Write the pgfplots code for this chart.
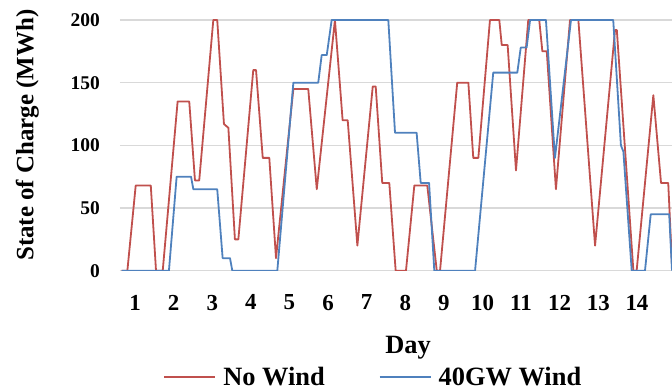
\documentclass[border=0pt]{standalone}
\usepackage{pgfplots}
\pgfplotsset{compat=1.18}
\usepackage{fontspec}
\setmainfont{Liberation Serif}
\definecolor{nowind}{HTML}{C0504D}
\definecolor{wind}{HTML}{4F81BD}
\definecolor{gridc}{HTML}{D9D9D9}
\begin{document}
\begin{tikzpicture}
\begin{axis}[
  scale only axis,
  width=552bp, height=250.7bp,
  xmin=0, xmax=337.2, ymin=0, ymax=200,
  axis line style={draw=none},
  major tick length=0pt,
  tick style={draw=none},
  ytick={0,50,100,150,200},
  yticklabels={0,50,100,150,200},
  xtick={9.2,32.8,56.4,80.0,103.5,127.1,150.7,174.3,197.9,221.5,245.0,268.6,292.2,315.8},
  xticklabels={1,2,3,4,5,6,7,8,9,10,11,12,13,14},
  ymajorgrids,
  grid style={gridc, line width=1.3bp},
  yticklabel style={font=\fontsize{19.5}{20}\selectfont\bfseries, anchor=east, inner sep=0pt, xshift=-20bp},
  xticklabel style={font=\fontsize{23}{24}\selectfont\bfseries, anchor=north, inner sep=0pt, yshift=-24bp},
  xlabel={Day},
  xlabel style={font=\fontsize{26.5}{27}\selectfont\bfseries, at={(axis description cs:0.522,-0.329)}, anchor=base},
  ylabel={State of Charge (MWh)},
  ylabel style={font=\fontsize{25}{26}\selectfont\bfseries, at={(axis description cs:-0.168,0.541)}, anchor=center, rotate=0},
  legend columns=2,
  legend style={draw=none, fill=none, at={(axis description cs:0.459,-0.424)}, anchor=center,
    font=\fontsize{26.5}{27}\selectfont\bfseries,
    /tikz/every even column/.append style={column sep=52bp},
    /tikz/every odd column/.append style={inner sep=1bp}},
  legend image code/.code={\draw[#1] (0bp,0bp) -- (51bp,0bp); \path (56bp,0bp);},
  every axis plot/.append style={line width=1.8bp, line join=round},
]
\addplot[nowind, mark=none] coordinates {
(1.0,0) (4.5,0) (9.6,68) (18.8,68) (22.0,0) (26.1,0) (35.2,135) (42.3,135) (45.8,72) (48.4,72)
(57.0,200) (59.4,200) (63.5,117) (66.2,114) (70.2,25) (72.3,25) (81.4,160) (83.1,160) (87.2,90) (91.2,90)
(95.3,10) (105.9,145) (115.0,145) (120.2,65) (131.3,200) (136.0,120) (139.1,120) (145.0,20) (154.4,147) (156.2,147)
(160.2,70) (164.5,70) (168.4,0) (174.7,0) (179.8,68) (187.7,68) (193.5,0) (195.5,0) (206.0,150) (212.8,150)
(215.8,90) (218.9,90) (226.0,200) (231.7,200) (233.2,180) (236.8,180) (241.9,80) (249.4,200) (256.1,200) (258.0,175)
(260.7,175) (266.3,65) (274.9,200) (280.0,200) (290.2,20) (302.4,192) (303.5,192) (313.6,0) (315.6,0) (325.8,140)
(330.5,70) (334.9,70) (337.2,5)
};
\addlegendentry{No Wind}
\addplot[wind, mark=none] coordinates {
(1.0,0) (29.9,0) (34.6,75) (43.4,75) (44.8,65) (59.4,65) (62.7,10) (67.2,10) (68.6,0) (96.1,0)
(105.9,150) (121.1,150) (123.2,172) (126.3,172) (129.3,200) (163.9,200) (168.0,110) (181.2,110) (183.7,70) (188.8,70)
(192.0,0) (216.9,0) (228.0,158) (242.7,158) (244.8,178) (248.4,178) (250.5,200) (260.2,200) (265.7,90) (275.5,200)
(301.3,200) (306.0,100) (307.5,95) (312.6,0) (320.7,0) (324.2,45) (335.5,45) (337.2,0)
};
\addlegendentry{40GW Wind}
\end{axis}
\pgfresetboundingbox
\useasboundingbox (-120bp,-121.3bp) rectangle (552bp,270.7bp);
\end{tikzpicture}
\end{document}
